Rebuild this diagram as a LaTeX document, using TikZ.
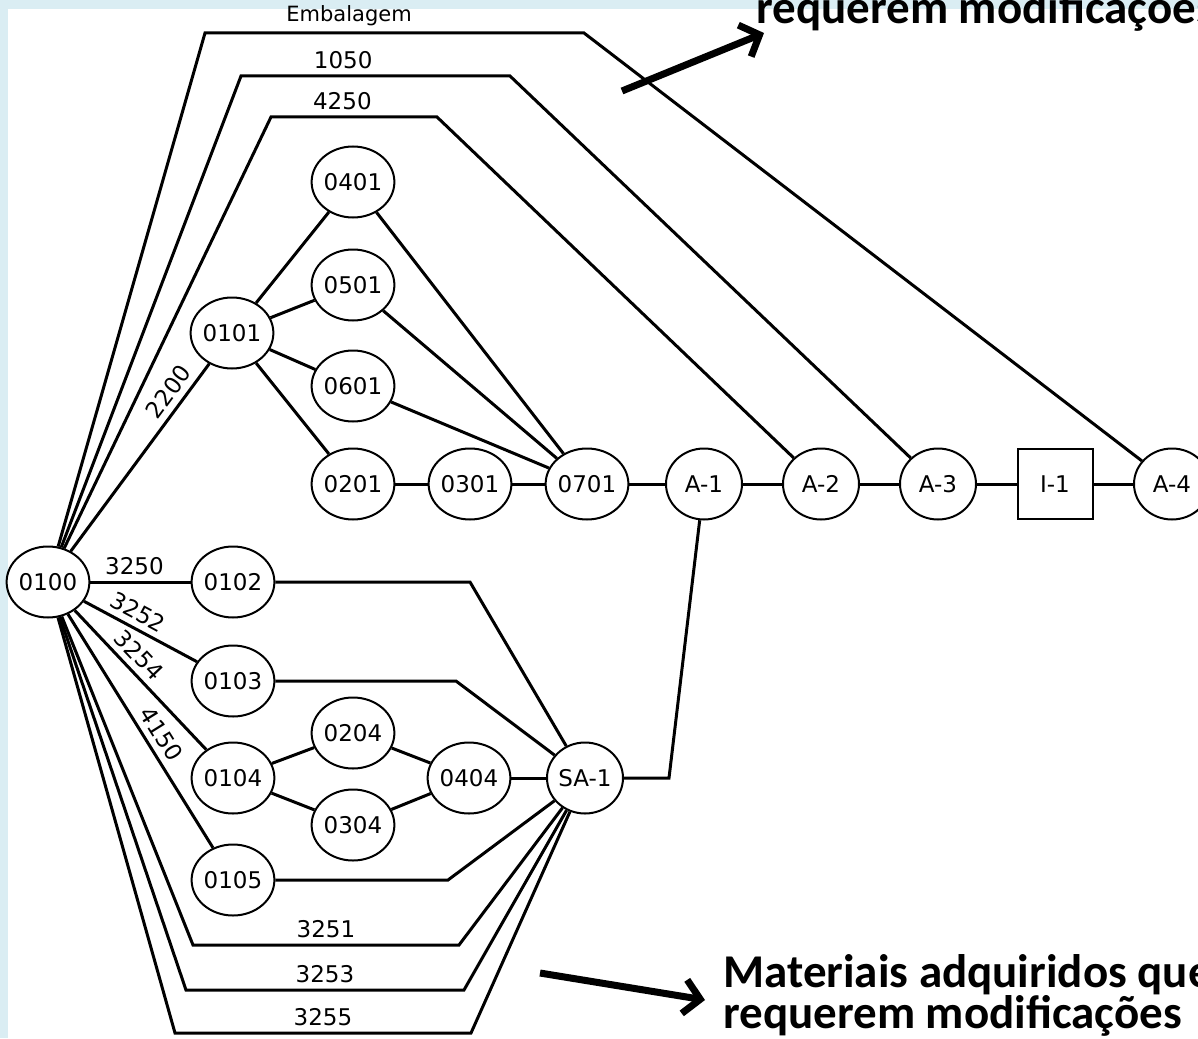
\documentclass[tikz,border=0pt]{standalone}
\usepackage{fontspec}
\setmainfont{DejaVu Sans}
\newfontfamily\notefont{Carlito}
\usepackage{tikz}
\usetikzlibrary{arrows.meta}
\usetikzlibrary{shapes.geometric}
\usetikzlibrary{positioning}
\definecolor{slideblue}{RGB}{218,237,243}
\tikzset{
  >=latex,
  % Common styles for the parts tree
  link/.style={draw, line width=1.5pt},
  lbl/.style={font=\fontsize{11.5}{13}\selectfont, inner sep=3pt},
  note/.style={font=\notefont\bfseries\fontsize{23.5}{20}\selectfont, inner sep=0pt, anchor=base west}
}
\begin{document}
\begin{tikzpicture}[x=0.5pt, y=-0.5pt, node distance=58.5pt]
    % Define styles
    \tikzstyle{part} = [draw, ellipse, fill=white, line width=1pt, minimum width=38pt, minimum height=35.5pt, inner sep=0pt, font=\fontsize{11.5}{13}\selectfont]
    \tikzstyle{inspect} = [draw, rectangle, fill=white, line width=1pt, minimum width=37.5pt, minimum height=35pt, inner sep=0pt, font=\fontsize{11.5}{13}\selectfont]
    \tikzstyle{pointer} = [draw, line width=3.5pt, -{Straight Barb[length=8pt,width=17pt]}]

    % Page
    \useasboundingbox (0,0) rectangle (1198,1038);
    \fill[slideblue] (0,0) rectangle (1198,1038);
    \fill[white] (8,9) rectangle (1198,1038);

    % Place nodes
    \node [part] (n0100) at (48,582) {0100};
    \node [part] (n0101) at (232,333) {0101};
    \node [part] (n0401) at (353,182) {0401};
    \node [part] (n0501) at (353,285) {0501};
    \node [part] (n0601) at (353,386) {0601};
    \node [part] (n0201) at (353,484) {0201};
    \node [part, right of=n0201] (n0301) {0301};
    \node [part, right of=n0301] (n0701) {0701};
    \node [part, right of=n0701] (nA1) {A-1};
    \node [part, right of=nA1] (nA2) {A-2};
    \node [part, right of=nA2] (nA3) {A-3};
    \node [inspect, right of=nA3] (nI1) {I-1};
    \node [part, right of=nI1] (nA4) {A-4};

    \node [part] (n0102) at (233,582) {0102};
    \node [part] (n0103) at (233,681) {0103};
    \node [part] (n0104) at (233,778) {0104};
    \node [part] (n0105) at (233,880) {0105};
    \node [part] (n0204) at (353,733) {0204};
    \node [part] (n0304) at (353,825) {0304};
    \node [part] (n0404) at (469,778) {0404};
    \node [part] (nSA1) at (585,778) {SA-1};

    % Bends of the long lines
    \coordinate (emb1) at (205,33);
    \coordinate (emb2) at (584,33);
    \coordinate (k1) at (241,76);
    \coordinate (k2) at (510,76);
    \coordinate (q1) at (271,117);
    \coordinate (q2) at (437,117);
    \coordinate (b2) at (470,582);
    \coordinate (b3) at (456,681);
    \coordinate (b5) at (448,880);
    \coordinate (s1a) at (193,945);
    \coordinate (s1b) at (459,945);
    \coordinate (s3a) at (186,990);
    \coordinate (s3b) at (464,990);
    \coordinate (s5a) at (175,1033);
    \coordinate (s5b) at (471,1033);
    \coordinate (sa) at (669,778);

    % Draw edges
    \path [link] (n0100) -- (emb1) -- node[lbl, above, pos=.38, font=\fontsize{10.5}{12}\selectfont] {Embalagem} (emb2) -- (nA4);
    \path [link] (n0100) -- (k1) -- node[lbl, above, pos=.38] {1050} (k2) -- (nA3);
    \path [link] (n0100) -- (q1) -- node[lbl, above, pos=.43] {4250} (q2) -- (nA2);
    \path [link] (n0100) -- node[lbl, sloped, above, pos=.8] {2200} (n0101);
    \path [link] (n0101) -- (n0401);
    \path [link] (n0101) -- (n0501);
    \path [link] (n0101) -- (n0601);
    \path [link] (n0101) -- (n0201);
    \path [link] (n0401) -- (n0701);
    \path [link] (n0501) -- (n0701);
    \path [link] (n0601) -- (n0701);
    \path [link] (n0201) -- (n0301);
    \path [link] (n0301) -- (n0701);
    \path [link] (n0701) -- (nA1);
    \path [link] (nA1) -- (nA2);
    \path [link] (nA2) -- (nA3);
    \path [link] (nA3) -- (nI1);
    \path [link] (nI1) -- (nA4);

    \path [link] (n0100) -- node[lbl, above, pos=.44] {3250} (n0102);
    \path [link] (n0100) -- node[lbl, sloped, above, pos=.41] {3252} (n0103);
    \path [link] (n0100) -- node[lbl, sloped, above, pos=.4] {3254} (n0104);
    \path [link] (n0100) -- node[lbl, sloped, above, pos=.55] {4150} (n0105);
    \path [link] (n0100) -- (s1a) -- node[lbl, above] {3251} (s1b) -- (nSA1);
    \path [link] (n0100) -- (s3a) -- node[lbl, above] {3253} (s3b) -- (nSA1);
    \path [link] (n0100) -- (s5a) -- node[lbl, above] {3255} (s5b) -- (nSA1);
    \path [link] (n0102) -- (b2) -- (nSA1);
    \path [link] (n0103) -- (b3) -- (nSA1);
    \path [link] (n0105) -- (b5) -- (nSA1);
    \path [link] (n0104) -- (n0204);
    \path [link] (n0104) -- (n0304);
    \path [link] (n0204) -- (n0404);
    \path [link] (n0304) -- (n0404);
    \path [link] (n0404) -- (nSA1);
    \path [link] (nSA1) -- (sa) -- (nA1);

    % Notes and arrows
    \node [note] (topnote) at (756,24) {requerem modificações};
    \node [note] (botnote1) at (723,987) {Materiais adquiridos que};
    \node [note] (botnote2) at (723,1028) {requerem modificações};
    \coordinate (up1) at (622,91);
    \coordinate (up2) at (764,33);
    \coordinate (dn1) at (540,973);
    \coordinate (dn2) at (705,1000);
    \path [pointer] (up1) -- (up2);
    \path [pointer] (dn1) -- (dn2);
\end{tikzpicture}
\end{document}
